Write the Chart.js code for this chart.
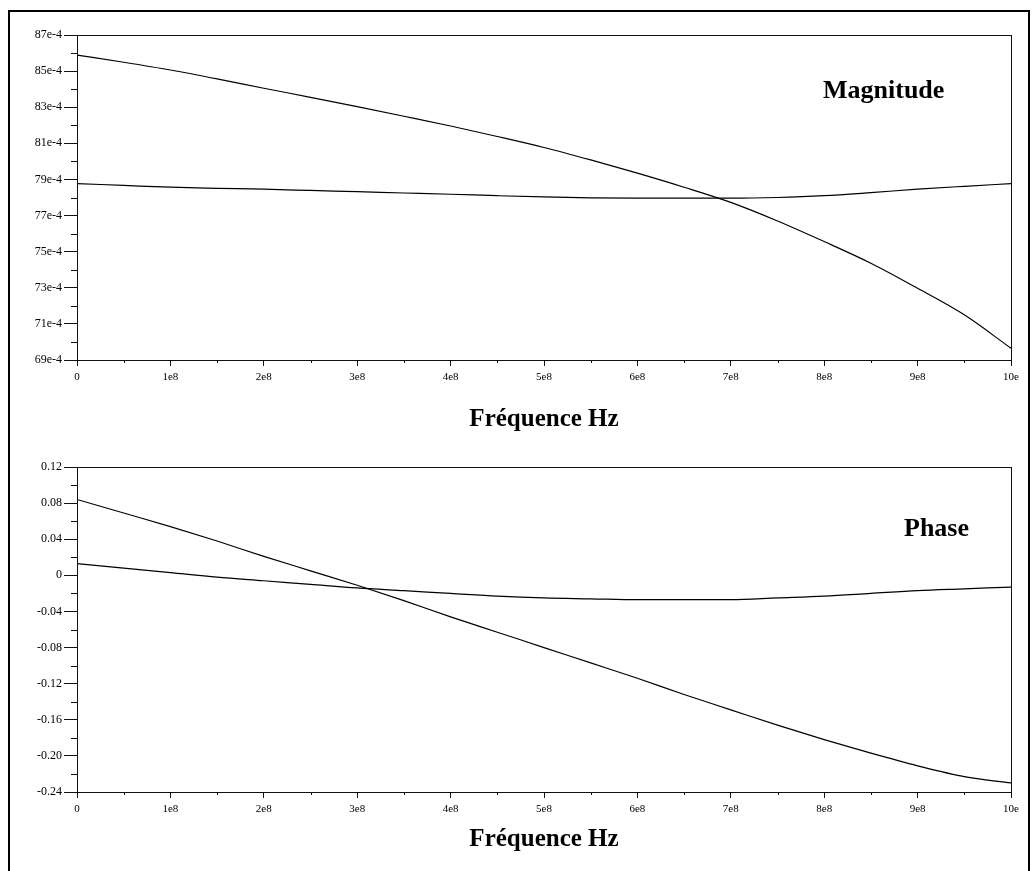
<!DOCTYPE html>
<html>
<head>
<meta charset="utf-8">
<script src="https://cdn.jsdelivr.net/npm/chart.js@4.4.0/dist/chart.umd.min.js"></script>
<style>
  html, body { margin: 0; background: #fff; overflow: hidden; }
  #frame { position: absolute; left: 8px; top: 10px; width: 1018px; height: 870px; border: 2px solid #000; border-bottom: none; }
  canvas { position: absolute; left: 0; }
  #magChart { top: 0; }
  #phaseChart { top: 440px; }
</style>
</head>
<body>
<div id="frame"></div>
<canvas id="magChart" width="1036" height="440"></canvas>
<canvas id="phaseChart" width="1036" height="431"></canvas>
<script>
// frequency points (Hz)
const freq = [0, 0.5e8, 1e8, 1.5e8, 2e8, 2.5e8, 3e8, 3.5e8, 4e8, 4.5e8, 5e8,
              5.5e8, 6e8, 6.5e8, 7e8, 7.5e8, 8e8, 8.5e8, 9e8, 9.5e8, 10e8];

// magnitude, in units of 1e-4
const magnitudeA = [85.89, 85.49, 85.06, 84.57, 84.05, 83.55, 83.03, 82.50, 81.96, 81.38, 80.77,
                    80.08, 79.35, 78.57, 77.73, 76.70, 75.56, 74.36, 72.97, 71.50, 69.65];
const magnitudeB = [78.77, 78.67, 78.57, 78.51, 78.46, 78.39, 78.32, 78.25, 78.18, 78.10, 78.03,
                    77.98, 77.96, 77.96, 77.96, 78.00, 78.10, 78.27, 78.46, 78.62, 78.77];

// phase
const phaseA = [0.084, 0.069, 0.054, 0.038, 0.021, 0.005, -0.011, -0.028, -0.046, -0.063, -0.080,
                -0.097, -0.114, -0.132, -0.149, -0.166, -0.182, -0.197, -0.211, -0.223, -0.230];
const phaseB = [0.013, 0.008, 0.003, -0.002, -0.006, -0.010, -0.014, -0.017, -0.020, -0.023, -0.025,
                -0.026, -0.027, -0.027, -0.027, -0.025, -0.023, -0.020, -0.017, -0.015, -0.013];

// tick values and labels
const freqTicks = [0, 1e8, 2e8, 3e8, 4e8, 5e8, 6e8, 7e8, 8e8, 9e8, 10e8];
const freqTickLabels = ['0', '1e8', '2e8', '3e8', '4e8', '5e8', '6e8', '7e8', '8e8', '9e8', '10e'];
const magTicks = [69, 71, 73, 75, 77, 79, 81, 83, 85, 87];
const magTickLabels = ['69e-4', '71e-4', '73e-4', '75e-4', '77e-4', '79e-4', '81e-4', '83e-4', '85e-4', '87e-4'];
const phaseTicks = [-0.24, -0.20, -0.16, -0.12, -0.08, -0.04, 0, 0.04, 0.08, 0.12];
const phaseTickLabels = ['-0.24', '-0.20', '-0.16', '-0.12', '-0.08', '-0.04', '0', '0.04', '0.08', '0.12'];

const FONT = '"Liberation Serif", "Times New Roman", serif';
const INK = '#111';

// box around the plot, minor ticks, and the name of the plot
const plotExtras = {
  id: 'plotExtras',
  afterDraw(chart, args, opts) {
    const { ctx, chartArea: a, scales: { x, y } } = chart;
    ctx.save();
    ctx.strokeStyle = INK;
    ctx.lineWidth = 1;
    ctx.strokeRect(Math.round(a.left) + 0.5, Math.round(a.top) + 0.5,
                   Math.round(a.right - a.left), Math.round(a.bottom - a.top));
    ctx.beginPath();
    for (let i = 0; i < freqTicks.length - 1; i++) {
      const px = Math.round(x.getPixelForValue((freqTicks[i] + freqTicks[i + 1]) / 2)) + 0.5;
      ctx.moveTo(px, a.bottom);
      ctx.lineTo(px, a.bottom + 3);
    }
    const yt = opts.yTicks;
    for (let i = 0; i < yt.length - 1; i++) {
      const py = Math.round(y.getPixelForValue((yt[i] + yt[i + 1]) / 2)) + 0.5;
      ctx.moveTo(a.left, py);
      ctx.lineTo(a.left - 6, py);
    }
    ctx.stroke();
    ctx.fillStyle = '#000';
    ctx.font = 'bold 26px ' + FONT;
    ctx.textBaseline = 'alphabetic';
    ctx.fillText(opts.label, opts.labelX, opts.labelY);
    ctx.restore();
  }
};

function makeChart(id, seriesA, seriesB, yTicks, yLabels, padTop, xAxisHeight, titlePad, label, labelX, labelY) {
  const ctx = document.getElementById(id);
  new Chart(ctx, {
    type: 'line',
    data: {
      datasets: [
        { data: freq.map((f, i) => ({ x: f, y: seriesA[i] })) },
        { data: freq.map((f, i) => ({ x: f, y: seriesB[i] })) }
      ]
    },
    options: {
      responsive: false,
      animation: false,
      events: [],
      layout: { padding: { left: 0, right: 25, top: padTop, bottom: 0 } },
      elements: {
        line: { borderColor: '#000', borderWidth: 1.2, cubicInterpolationMode: 'monotone' },
        point: { radius: 0 }
      },
      plugins: {
        legend: { display: false },
        tooltip: { enabled: false },
        plotExtras: { yTicks: yTicks, label: label, labelX: labelX, labelY: labelY }
      },
      scales: {
        x: {
          type: 'linear',
          min: 0,
          max: 1e9,
          afterBuildTicks: s => { s.ticks = freqTicks.map(v => ({ value: v })); },
          afterFit: s => { s.height = xAxisHeight; },
          ticks: {
            autoSkip: false,
            maxRotation: 0,
            padding: 5,
            color: '#000',
            font: { family: FONT, size: 11 },
            callback: (v, i) => freqTickLabels[i]
          },
          grid: { drawOnChartArea: false, drawTicks: true, tickLength: 6, tickColor: INK },
          border: { color: INK, width: 1 },
          title: {
            display: true,
            text: 'Fréquence Hz',
            color: '#000',
            font: { family: FONT, size: 25, weight: 'bold' },
            padding: { top: 0, bottom: titlePad }
          }
        },
        y: {
          type: 'linear',
          min: yTicks[0],
          max: yTicks[yTicks.length - 1],
          afterBuildTicks: s => { s.ticks = yTicks.map(v => ({ value: v })); },
          afterFit: s => { s.width = 77; },
          ticks: {
            autoSkip: false,
            padding: 2,
            color: '#000',
            font: { family: FONT, size: 12 },
            callback: (v, i) => yLabels[i]
          },
          grid: { drawOnChartArea: false, drawTicks: true, tickLength: 13, tickColor: INK },
          border: { color: INK, width: 1 }
        }
      }
    },
    plugins: [plotExtras]
  });
}

makeChart('magChart', magnitudeA, magnitudeB, magTicks, magTickLabels, 35, 80, 5, 'Magnitude', 823, 98);
makeChart('phaseChart', phaseA, phaseB, phaseTicks, phaseTickLabels, 27, 79, 16, 'Phase', 904, 96);
</script>
</body>
</html>
